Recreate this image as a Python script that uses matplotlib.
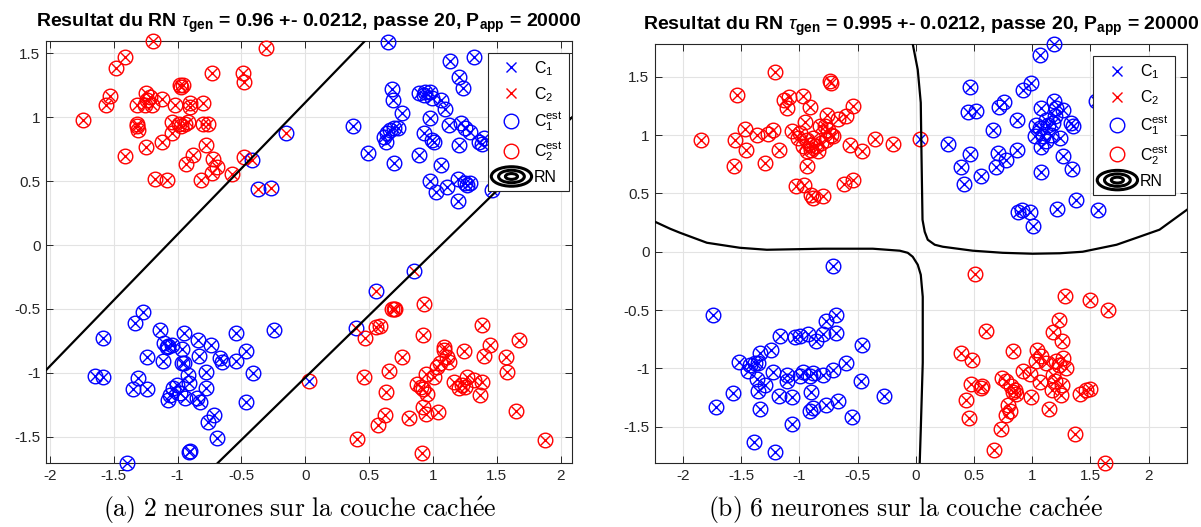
import matplotlib.pyplot as plt
from matplotlib.patches import Ellipse
from matplotlib.legend_handler import HandlerBase
from matplotlib.lines import Line2D

plt.rcParams['font.family'] = ['Liberation Sans', 'DejaVu Sans']
plt.rcParams['mathtext.fontset'] = 'custom'
plt.rcParams['mathtext.rm'] = 'Liberation Sans'
plt.rcParams['mathtext.it'] = 'Liberation Sans:italic'
plt.rcParams['mathtext.bf'] = 'Liberation Sans:bold'
plt.rcParams['axes.unicode_minus'] = False

# ---- panel (a): 2 hidden neurons ----
# true C1 / estimated C1
a_ok1_x = [0.646, 1.137, 1.32, 1.205, 1.24, 0.68, 0.687, 0.758, 0.894, 0.94, 0.975, 0.928, 0.993, 1.06, 1.093, 0.975,
           0.371, 0.64, 0.693, 0.73, 0.614, 0.635, 0.667, 0.928, 0.993, 1.007, 1.13, 1.22, 1.255, 1.29, 1.36, 1.40,
           1.385, 1.208, 0.49, 0.889, 0.698, 1.064, 0.98, 1.025, 1.11, 1.195, 1.255, 1.294, 1.268, 1.197, 1.464,
           -1.273, -1.333, -1.587, -1.137, -0.949, -0.837, -0.74, -0.541, -0.243, -0.463, -1.106, -1.072, -1.046,
           -1.085, -0.967, -1.242, -1.116, -0.831, -0.967, -0.949, -0.667, -0.654, -0.544, -0.405, -1.647, -1.587,
           -1.312, -1.352, -1.237, -0.915, -0.779, -0.91, -0.779, -1.033, -1.007, -0.98, -1.059, -1.072, -0.941,
           -0.85, -0.824, -0.465, -0.714, -0.758, -0.688, -0.91, -0.902, -1.399]
a_ok1_y = [1.59, 1.443, 1.475, 1.318, 1.232, 1.22, 1.135, 1.036, 1.193, 1.20, 1.20, 1.175, 1.148, 1.135, 1.062, 0.992,
           0.932, 0.874, 0.92, 0.914, 0.848, 0.809, 0.90, 0.874, 0.822, 0.81, 0.937, 0.953, 0.914, 0.888, 0.81, 0.835,
           0.79, 0.783, 0.723, 0.705, 0.645, 0.626, 0.504, 0.418, 0.457, 0.514, 0.483, 0.488, 0.47, 0.345, 0.43,
           -0.525, -0.608, -0.731, -0.666, -0.687, -0.744, -0.783, -0.687, -0.666, -0.827, -0.77, -0.791, -0.783,
           -0.801, -0.817, -0.874, -0.908, -0.867, -0.927, -0.921, -0.887, -0.914, -0.906, -1.0, -1.026, -1.036,
           -1.039, -1.13, -1.128, -1.018, -0.992, -1.083, -1.117, -1.122, -1.096, -1.16, -1.175, -1.214, -1.20,
           -1.20, -1.227, -1.232, -1.331, -1.383, -1.509, -1.618, -1.61, -1.71]
# true C2 / estimated C2
a_ok2_x = [-1.19, -0.31, -1.41, -1.48, -0.73, -0.49, -0.48, -0.98, -0.955, -0.97, -1.53, -1.56, -1.25, -1.32, -1.24,
           -1.20, -1.255, -1.215, -1.12, -1.02, -0.90, -0.80, -0.90, -1.74, -1.32, -1.31, -1.32, -1.04, -0.99, -0.94,
           -0.915, -0.97, -0.80, -0.76, -1.04, -1.12, -1.25, -1.41, -0.78, -0.875, -0.93, -0.72, -0.69, -0.73,
           -0.815, -1.18, -1.08, -0.575, -0.48,
           0.933, 0.68, 0.706, 0.693, 0.557, 0.588, 0.471, 0.92, 1.386, 1.451, 1.678, 1.085, 1.09, 1.242, 1.399,
           1.574, 0.758, 1.111, 1.059, 1.124, 1.033, 1.582, 0.457, 0.654, 0.949, 1.007, 1.163, 1.268, 1.228, 1.203,
           1.255, 1.32, 1.386, 1.372, 0.876, 0.907, 0.923, 0.954, 0.633, 0.92, 0.949, 1.04, 0.627, 0.567, 0.81,
           1.652, 0.405, 1.875, 0.915]
a_ok2_y = [1.60, 1.545, 1.47, 1.39, 1.35, 1.35, 1.28, 1.25, 1.25, 1.24, 1.17, 1.10, 1.19, 1.10, 1.135, 1.10, 1.10,
           1.156, 1.146, 1.10, 1.11, 1.11, 1.08, 0.98, 0.95, 0.90, 0.93, 0.966, 0.95, 0.95, 0.966, 0.93, 0.945,
           0.945, 0.874, 0.81, 0.765, 0.70, 0.78, 0.705, 0.634, 0.67, 0.61, 0.566, 0.506, 0.52, 0.51, 0.556, 0.69,
           -0.462, -0.499, -0.499, -0.504, -0.645, -0.632, -0.731, -0.705, -0.626, -0.783, -0.744, -0.801, -0.822,
           -0.827, -0.867, -0.874, -0.88, -0.874, -0.927, -0.914, -0.953, -0.992, -1.031, -0.987, -1.01, -1.031,
           -1.07, -1.031, -1.096, -1.122, -1.115, -1.057, -1.07, -1.175, -1.088, -1.109, -1.128, -1.169, -1.149,
           -1.266, -1.326, -1.305, -1.331, -1.41, -1.357, -1.297, -1.519, -1.527, -1.631]
# true C1 / estimated C2
a_err12_x = [0.029]
a_err12_y = [-1.062]
# true C2 / estimated C1
a_err21_x = [-0.415, -0.154, -0.366, -0.267, 0.85, 0.552, 0.395]
a_err21_y = [0.666, 0.874, 0.44, 0.45, -0.204, -0.36, -0.653]
# decision boundary (two branches)
a_rn1_x = [-2.03, 0.47]
a_rn1_y = [-0.98, 1.60]
a_rn2_x = [-0.685, 2.09]
a_rn2_y = [-1.707, 1.0]

# ---- panel (b): 6 hidden neurons ----
b_ok1_x = [1.185, 1.07, 0.464, 0.987, 0.921, 0.449, 0.521, 0.715, 0.755, 1.545, 0.873, 0.664, 1.079, 1.185, 1.207,
           1.265, 1.193, 1.122, 1.036, 1.064, 1.136, 1.179, 1.336, 1.35, 1.021, 1.093, 1.165, 1.236, 1.079, 1.122,
           0.278, 0.464, 0.707, 0.773, 0.87, 0.692, 0.386, 0.415, 0.558, 1.265, 1.345, 1.079, 1.379, 1.213, 1.562,
           0.878, 0.916, 0.979, 1.007,
           -0.71, -1.745, -0.681, -0.767, -0.681, -0.801, -0.853, -0.924, -0.996, -1.039, -1.167, -0.458, -1.245,
           -1.339, -1.519, -1.425, -1.382, -1.353, -1.439, -1.368, -1.296, -1.353, -1.225, -1.11, -1.11, -0.967,
           -0.996, -0.91, -0.881, -0.795, -0.715, -0.601, -0.472, -0.896, -0.272, -1.568, -1.717, -1.173, -1.067,
           -1.339, -0.91, -0.881, -0.775, -0.667, -0.552, -1.062, -1.388, -1.21]
b_ok1_y = [1.78, 1.688, 1.411, 1.445, 1.388, 1.194, 1.203, 1.24, 1.28, 1.288, 1.125, 1.04, 1.231, 1.288, 1.231,
           1.217, 1.16, 1.131, 1.088, 1.06, 1.088, 1.103, 1.103, 1.074, 0.994, 0.988, 1.003, 0.974, 0.897, 0.945,
           0.925, 0.837, 0.845, 0.788, 0.868, 0.726, 0.723, 0.583, 0.646, 0.823, 0.711, 0.683, 0.446, 0.368, 0.354,
           0.34, 0.354, 0.337, 0.223,
           -0.126, -0.546, -0.54, -0.597, -0.697, -0.703, -0.768, -0.703, -0.72, -0.731, -0.726, -0.803, -0.845,
           -0.868, -0.948, -0.968, -0.954, -0.954, -1.025, -1.091, -1.14, -1.191, -1.034, -1.054, -1.111, -1.034,
           -1.068, -1.068, -1.04, -1.06, -1.011, -0.954, -1.111, -1.203, -1.24, -1.211, -1.331, -1.234, -1.248,
           -1.345, -1.368, -1.34, -1.317, -1.282, -1.417, -1.477, -1.631, -1.717]
b_ok2_x = [-1.21, -0.738, -0.732, -1.539, -1.13, -1.09, -1.11, -0.967, -0.91, -0.538, -0.595, -0.667, -0.761,
           -0.781, -0.824, -1.468, -0.953, -1.848, -1.554, -1.368, -1.268, -1.225, -1.067, -0.996, -1.01, -0.938,
           -0.881, -0.753, -0.724, -0.71, -0.767, -0.81, -0.967, -0.896, -0.938, -0.838, -0.91, -0.853, -1.454,
           -1.173, -0.567, -0.466, -0.346, -0.195, -1.562, -1.296, -0.93, -1.03, -0.961, -0.896, -0.881, -0.795,
           -0.618, -0.538,
           0.506, 1.279, 1.494, 1.651, 1.23, 1.179, 1.256, 0.607, 0.392, 0.484, 0.835, 1.041, 1.079, 1.036, 1.122,
           1.202, 1.265, 1.293, 1.23, 0.921, 0.979, 0.744, 0.778, 0.821, 0.85, 0.864, 0.835, 0.993, 1.064, 1.179,
           1.193, 1.173, 1.259, 1.25, 1.408, 1.465, 1.499, 0.472, 0.564, 0.572, 0.435, 0.455, 0.793, 0.807, 0.778,
           1.142, 0.735, 1.371, 0.67, 1.628]
b_ok2_y = [1.54, 1.465, 1.445, 1.345, 1.302, 1.325, 1.231, 1.337, 1.24, 1.245, 1.16, 1.137, 1.174, 1.08, 1.074,
           1.051, 1.108, 0.96, 0.954, 0.997, 1.011, 1.045, 1.037, 1.017, 0.974, 0.954, 0.974, 1.045, 1.003, 0.988,
           0.96, 0.931, 0.903, 0.874, 0.86, 0.86, 0.917, 0.908, 0.868, 0.868, 0.911, 0.86, 0.968, 0.925, 0.731,
           0.76, 0.731, 0.56, 0.574, 0.483, 0.46, 0.474, 0.583, 0.617,
           -0.189, -0.383, -0.411, -0.497, -0.583, -0.691, -0.768, -0.683, -0.868, -0.931, -0.854, -0.845, -0.891,
           -0.94, -0.954, -0.94, -0.911, -0.997, -0.968, -1.025, -1.045, -1.083, -1.111, -1.154, -1.183, -1.217,
           -1.205, -1.248, -1.12, -1.054, -1.111, -1.183, -1.14, -1.225, -1.217, -1.188, -1.174, -1.131, -1.168,
           -1.148, -1.274, -1.425, -1.311, -1.368, -1.397, -1.345, -1.517, -1.56, -1.702, -1.811]
b_err12_x = [0.04]
b_err12_y = [0.97]
b_err21_x = []
b_err21_y = []
b_rn1_x = [-0.026, 0.017, 0.043, 0.049, 0.058, 0.077, 0.103, 0.163, 0.232, 0.489, 0.747, 1.004, 1.236, 1.433,
           1.725, 1.923, 2.094, 2.33]
b_rn1_y = [1.78, 1.56, 1.277, 0.848, 0.274, 0.171, 0.103, 0.06, 0.043, 0.009, -0.009, -0.017, -0.013, 0.0,
           0.06, 0.129, 0.189, 0.36]
b_rn2_x = [-2.24, -2.11, -2.026, -1.794, -1.511, -1.279, -0.798, -0.369, -0.137, -0.069, -0.026, 0.017, 0.043,
           0.06, 0.06, 0.043, 0.034]
b_rn2_y = [0.257, 0.197, 0.163, 0.077, 0.034, 0.017, 0.026, 0.026, 0.009, -0.009, -0.043, -0.111, -0.197,
           -0.386, -0.951, -1.525, -1.81]

ticks = [-2, -1.5, -1, -0.5, 0, 0.5, 1, 1.5, 2]
tick_labels = ['-2', '-1.5', '-1', '-0.5', '0', '0.5', '1', '1.5', '2']
yticks = [-1.5, -1, -0.5, 0, 0.5, 1, 1.5]
ytick_labels = ['-1.5', '-1', '-0.5', '0', '0.5', '1', '1.5']

titles = [r'Resultat du RN $\tau_{\mathbf{gen}}$ = 0.96 +- 0.0212, passe 20, P$_{\mathbf{app}}$ = 20000',
          r'Resultat du RN $\tau_{\mathbf{gen}}$ = 0.995 +- 0.0212, passe 20, P$_{\mathbf{app}}$ = 20000']
captions = [r'$\mathrm{(a)\ 2\ neurones\ sur\ la\ couche\ cach\acute{e}e}$',
            r'$\mathrm{(b)\ 6\ neurones\ sur\ la\ couche\ cach\acute{e}e}$']
legend_labels = [r'C$_1$', r'C$_2$', r'C$_1^{\mathrm{est}}$', r'C$_2^{\mathrm{est}}$', 'RN']


class HandlerRings(HandlerBase):
    # concentric ellipses, like a contour legend entry
    def create_artists(self, legend, orig_handle, xdescent, ydescent, width, height, fontsize, trans):
        cx = 0.5 * width - xdescent
        cy = 0.5 * height - ydescent
        rings = []
        for f in (1.0, 0.64, 0.3):
            rings.append(Ellipse((cx, cy), 29 * f, 14 * f, fill=False, ec='black', lw=2.2, transform=trans))
        return rings


fig = plt.figure(figsize=(12.01, 5.27), dpi=100)
ax1 = fig.add_axes([46 / 1201, 1 - 463 / 527, 526 / 1201, 422.3 / 527])
ax2 = fig.add_axes([655 / 1201, 1 - 463 / 527, 532 / 1201, 419 / 527])

panels = [
    (ax1, a_ok1_x, a_ok1_y, a_ok2_x, a_ok2_y, a_err12_x, a_err12_y, a_err21_x, a_err21_y,
     [(a_rn1_x, a_rn1_y), (a_rn2_x, a_rn2_y)], (-2.03, 2.09), (-1.707, 1.60), (0.994, 0.972), 14 / 422.3),
    (ax2, b_ok1_x, b_ok1_y, b_ok2_x, b_ok2_y, b_err12_x, b_err12_y, b_err21_x, b_err21_y,
     [(b_rn1_x, b_rn1_y), (b_rn2_x, b_rn2_y)], (-2.24, 2.33), (-1.81, 1.78), (0.977, 0.971), 14 / 419),
]

for i, (ax, o1x, o1y, o2x, o2y, e12x, e12y, e21x, e21y, rn, xl, yl, leg_pos, t_off) in enumerate(panels):
    true1_x, true1_y = o1x + e12x, o1y + e12y
    true2_x, true2_y = o2x + e21x, o2y + e21y
    est1_x, est1_y = o1x + e21x, o1y + e21y
    est2_x, est2_y = o2x + e12x, o2y + e12y

    xs = dict(ls='none', marker='x', ms=7, mew=1.0, clip_on=False, zorder=3)
    os_ = dict(ls='none', marker='o', ms=10.5, mew=1.0, mfc='none', clip_on=False, zorder=3)
    ax.plot(true1_x, true1_y, color='blue', **xs)
    ax.plot(true2_x, true2_y, color='red', **xs)
    ax.plot(est1_x, est1_y, color='blue', **os_)
    ax.plot(est2_x, est2_y, color='red', **os_)
    for bx, by in rn:
        ax.plot(bx, by, color='black', lw=1.6, zorder=4)

    ax.set_xlim(*xl)
    ax.set_ylim(*yl)
    ax.set_xticks(ticks)
    ax.set_xticklabels(tick_labels)
    ax.set_yticks(yticks)
    ax.set_yticklabels(ytick_labels)
    ax.grid(True, color='#e3e3e3', lw=0.8)
    ax.set_axisbelow(True)
    ax.tick_params(direction='in', top=True, right=True, length=5, width=0.7,
                   labelsize=11, colors='#262626', pad=4)
    for sp in ax.spines.values():
        sp.set_color('#262626')
        sp.set_linewidth(0.8)

    ax.text(0.5, 1 + t_off, titles[i], transform=ax.transAxes, ha='center', va='baseline',
            fontsize=14, fontweight='bold')

    handles = [
        Line2D([], [], ls='none', marker='x', color='blue', ms=7, mew=1.0),
        Line2D([], [], ls='none', marker='x', color='red', ms=7, mew=1.0),
        Line2D([], [], ls='none', marker='o', color='blue', ms=10.5, mew=1.0, mfc='none'),
        Line2D([], [], ls='none', marker='o', color='red', ms=10.5, mew=1.0, mfc='none'),
        Ellipse((0, 0), 1, 1),
    ]
    leg = ax.legend(handles, legend_labels, loc='upper right', bbox_to_anchor=leg_pos, borderaxespad=0,
                    fontsize=11.5, handlelength=2.2, handletextpad=0.3, borderpad=0.4, labelspacing=0.45,
                    fancybox=False, framealpha=1, edgecolor='#262626', numpoints=1,
                    handler_map={Ellipse: HandlerRings()})
    leg.get_frame().set_linewidth(0.8)
    leg.set_zorder(10)

fig.text(300 / 1201, 1 - 517 / 527, captions[0], fontsize=18.5, ha='center', va='baseline', math_fontfamily='cm')
fig.text(905 / 1201, 1 - 517 / 527, captions[1], fontsize=18.5, ha='center', va='baseline', math_fontfamily='cm')

fig.savefig('out.png', dpi=100)
